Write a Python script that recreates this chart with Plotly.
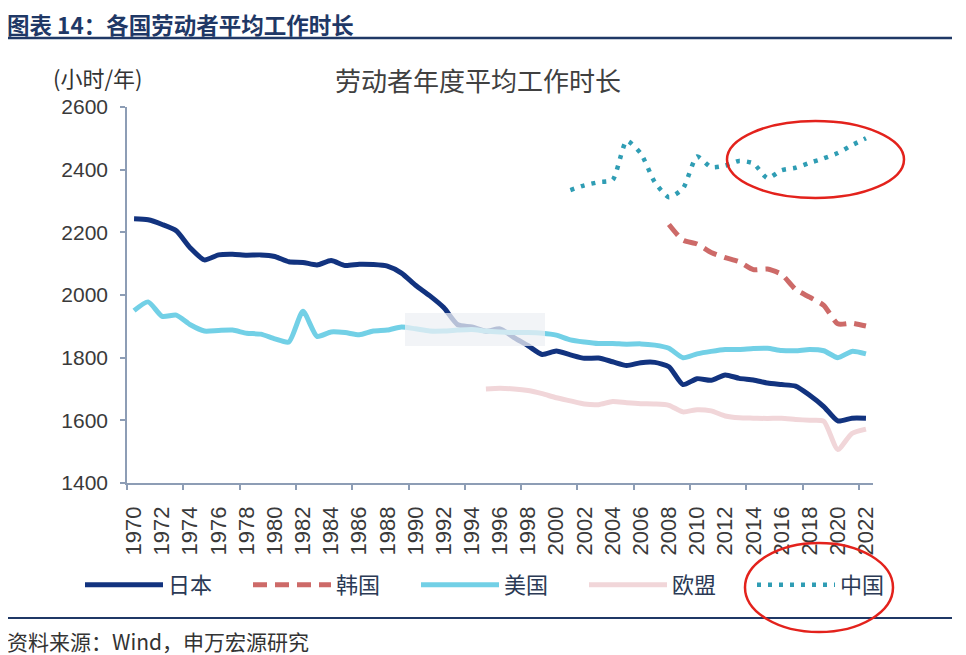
import plotly.graph_objects as go

# ---------------- data ----------------
years = list(range(1970, 2023))

japan = [2243, 2240, 2225, 2205, 2150, 2112, 2128, 2130, 2127, 2128,
         2123, 2106, 2104, 2096, 2110, 2094, 2098, 2097, 2092, 2070,
         2031, 1998, 1960, 1905, 1898, 1884, 1892, 1864, 1838, 1810,
         1821, 1809, 1798, 1799, 1787, 1775, 1784, 1785, 1771, 1714,
         1733, 1728, 1745, 1734, 1729, 1719, 1714, 1709, 1680, 1644,
         1598, 1607, 1607]

usa = [1950, 1978, 1932, 1936, 1905, 1885, 1887, 1888, 1878, 1875,
       1860, 1850, 1948, 1868, 1882, 1880, 1873, 1885, 1888, 1898,
       1892, 1885, 1885, 1888, 1890, 1885, 1882, 1880, 1880, 1878,
       1872, 1857, 1850, 1845, 1845, 1843, 1844, 1840, 1830, 1800,
       1812, 1820, 1826, 1826, 1829, 1830, 1823, 1822, 1826, 1822,
       1800, 1820, 1812]

eu_years = list(range(1995, 2023))
eu = [1700, 1702, 1700, 1695, 1685, 1672, 1662, 1652, 1650, 1660,
      1656, 1653, 1652, 1648, 1627, 1634, 1630, 1614, 1608, 1607,
      1606, 1607, 1603, 1600, 1597, 1507, 1558, 1572]

korea_years = list(range(2008, 2023))
korea = [2225, 2175, 2163, 2136, 2119, 2106, 2081, 2083, 2066, 2018,
         1993, 1967, 1908, 1910, 1901]

china_years = list(range(2001, 2023))
china = [2335, 2350, 2360, 2367, 2492, 2452, 2360, 2312, 2340, 2442,
         2408, 2413, 2428, 2420, 2373, 2398, 2406, 2422, 2436, 2453,
         2478, 2500]

x_tick_labels = [str(y) for y in range(1970, 2023, 2)]
y_ticks = [1400, 1600, 1800, 2000, 2200, 2400, 2600]

# ---------------- styles ----------------
FONT = "Noto Sans CJK SC"
NUMFONT = "Liberation Sans"
C_JP = "#12337f"
C_KR = "#cd6a68"
C_US = "#72d0e6"
C_EU = "#f1d6d9"
C_CN = "#2f9db4"
AXIS_C = "#8d9db5"
TXT = "#3a3a3a"
NAVY = "#1f3866"

fig = go.Figure()

common = dict(mode="lines", line_shape="spline")
fig.add_trace(go.Scatter(x=years, y=japan, name="日本",
                         line=dict(color=C_JP, width=5, smoothing=0.6), **common))
fig.add_trace(go.Scatter(x=korea_years, y=korea, name="韩国",
                         line=dict(color=C_KR, width=5, dash="14px,8px", smoothing=0.6), **common))
fig.add_trace(go.Scatter(x=years, y=usa, name="美国",
                         line=dict(color=C_US, width=5, smoothing=0.6), **common))
fig.add_trace(go.Scatter(x=eu_years, y=eu, name="欧盟",
                         line=dict(color=C_EU, width=5, smoothing=0.6), **common))
fig.add_trace(go.Scatter(x=china_years, y=china, name="中国",
                         line=dict(color=C_CN, width=4.5, dash="4px,7px", smoothing=0.6), **common))

# The page body has an 8px margin, so the figure is drawn 8px smaller and
# every target position (in window pixels) is measured from the plot area.
OFF = 8
W, H = 966 - OFF, 655 - OFF
L, R, T, B = 127, 873, 107, 483   # plot area in window pixels


def px(xp):
    return (xp - L) / (R - L)


def py(yp):
    return (B - yp) / (B - T)


fig.update_layout(
    width=W, height=H,
    margin=dict(l=L - OFF, r=W - (R - OFF), t=T - OFF, b=H - (B - OFF), autoexpand=False),
    paper_bgcolor="white", plot_bgcolor="white",
    font=dict(family=FONT, color=TXT, size=19),
    showlegend=True,
    legend=dict(
        orientation="h", x=px(80), xanchor="left", y=py(585), yanchor="middle",
        itemwidth=78, entrywidth=75, entrywidthmode="pixels",
        font=dict(size=22, color="#2b3a55", family=FONT),
        bgcolor="rgba(0,0,0,0)", traceorder="normal",
        itemclick=False, itemdoubleclick=False,
    ),
    xaxis=dict(
        range=[1969.5, 2022.5], tickmode="array",
        tickvals=list(range(1970, 2023, 2)), ticktext=x_tick_labels,
        tickangle=-90, ticks="", ticklabelstandoff=13,
        tickfont=dict(size=22, color=TXT, family=NUMFONT),
        showline=True, linecolor=AXIS_C, linewidth=1.5,
        showgrid=False, zeroline=False,
        minor=dict(tickmode="array", tickvals=[1969.5 + 4 * k for k in range(14)],
                   ticks="outside", ticklen=5, tickcolor=AXIS_C, tickwidth=1.5,
                   showgrid=False),
    ),
    yaxis=dict(
        range=[1400, 2600], tickmode="array", tickvals=y_ticks,
        ticks="outside", ticklen=5, tickcolor=AXIS_C, tickwidth=1.5,
        tickfont=dict(size=21, color=TXT, family=NUMFONT),
        ticklabelstandoff=8,
        showline=True, linecolor=AXIS_C, linewidth=1.5,
        showgrid=False, zeroline=False,
    ),
)

annotations = [
    dict(text="<b>图表 14：各国劳动者平均工作时长</b>", x=px(6), y=py(24),
         xanchor="left", yanchor="middle", borderpad=0,
         font=dict(size=22.5, color=NAVY, family=FONT)),
    dict(text="劳动者年度平均工作时长", x=px(478), y=py(80),
         xanchor="center", yanchor="middle", font=dict(size=26, color="#404040", family=FONT)),
    dict(text="(小时/年)", x=px(51), y=py(77),
         xanchor="left", yanchor="middle", font=dict(size=22, color="#333333", family=FONT)),
    dict(text="资料来源：Wind，申万宏源研究", x=px(5), y=py(641),
         xanchor="left", yanchor="middle", font=dict(size=21, color="#333333", family=FONT)),
]
for a in annotations:
    a.update(xref="paper", yref="paper", showarrow=False)
fig.update_layout(annotations=annotations)

shapes = [
    # header rule
    dict(type="line", x0=px(8), x1=px(952), y0=py(38), y1=py(38),
         line=dict(color=NAVY, width=2.5)),
    # footer rule
    dict(type="line", x0=px(8), x1=px(952), y0=py(618), y1=py(618),
         line=dict(color=NAVY, width=2)),
    # red highlight ellipses (hand-drawn marks in the source)
    dict(type="circle", x0=px(727), x1=px(904), y0=py(198), y1=py(121),
         line=dict(color="#e3221c", width=2.5)),
    dict(type="circle", x0=px(745), x1=px(893), y0=py(632), y1=py(543),
         line=dict(color="#e3221c", width=2.5)),
    # blurred watermark patch over the middle of the chart
    dict(type="rect", x0=px(405), x1=px(545), y0=py(346), y1=py(313),
         fillcolor="rgba(238,240,244,0.75)", line=dict(width=0), layer="above"),
]
for s in shapes:
    s.update(xref="paper", yref="paper")
fig.update_layout(shapes=shapes)

fig.write_html("out.html")
